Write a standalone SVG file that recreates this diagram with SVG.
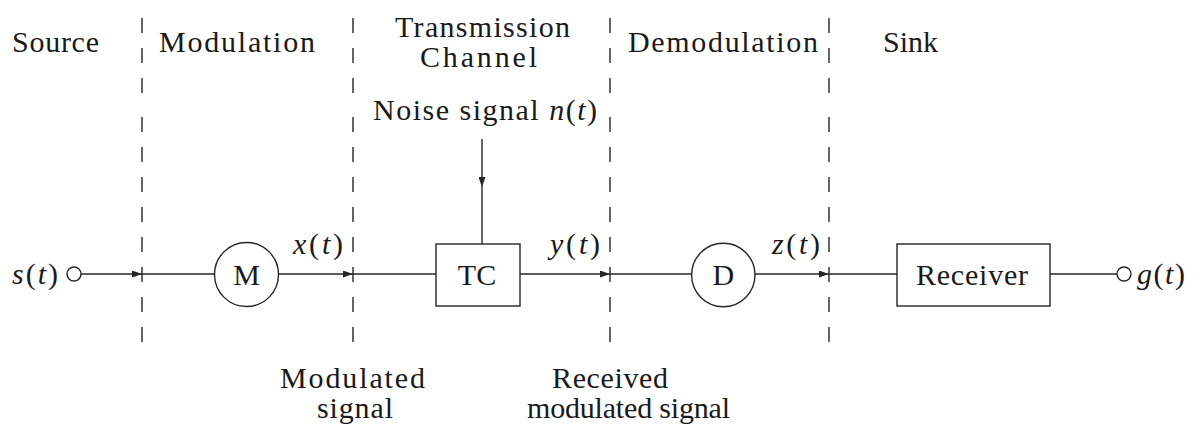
<svg xmlns="http://www.w3.org/2000/svg" width="1194" height="424" viewBox="0 0 1194 424">
<style>
.t{font-family:'Liberation Serif','DejaVu Serif',serif;font-size:30px;fill:#1a1a1a}
.i{font-style:italic}
.ln{stroke:#262626;stroke-width:1.4;fill:none}
.dash{stroke:#262626;stroke-width:1.4;fill:none;stroke-dasharray:15 15}
.shape{stroke:#262626;stroke-width:1.4;fill:#fff}
</style>
<defs>
<marker id="arr" markerUnits="userSpaceOnUse" markerWidth="10" markerHeight="7" refX="10" refY="3.5" orient="auto">
<path d="M0,0 L10,3.5 L0,7 z" fill="#262626"/>
</marker>
</defs>
<rect width="1194" height="424" fill="#fff"/>
<g id="separators">
<path class="dash" d="M142,18V93M142,117V342M353,18V93M353,117V342M610,18V93M610,117V342M829,18V93M829,117V342"/>
</g>
<g id="headers" class="t" font-family="Liberation Serif, DejaVu Serif, serif">
<text x="12" y="52" textLength="87">Source</text>
<text x="159" y="52" textLength="156">Modulation</text>
<text x="395" y="37" textLength="175">Transmission</text>
<text x="420" y="67" textLength="117">Channel</text>
<text x="628" y="52" textLength="190">Demodulation</text>
<text x="883" y="52">Sink</text>
</g>
<g id="connectors">
<path class="ln" d="M81,274H142" marker-end="url(#arr)"/>
<path class="ln" d="M142,274H214.5"/>
<path class="ln" d="M278.5,274H353" marker-end="url(#arr)"/>
<path class="ln" d="M353,274H436"/>
<path class="ln" d="M520,274H610" marker-end="url(#arr)"/>
<path class="ln" d="M610,274H691.5"/>
<path class="ln" d="M755,274H829" marker-end="url(#arr)"/>
<path class="ln" d="M829,274H897"/>
<path class="ln" d="M1050,274H1117"/>
<path class="ln" d="M482,139V187" marker-end="url(#arr)"/>
<path class="ln" d="M482,187V244"/>
</g>
<g id="source" class="t" font-family="Liberation Serif, DejaVu Serif, serif">
<circle class="shape" cx="74" cy="274" r="7"/>
<text x="12" y="284" textLength="46"><tspan class="i">s</tspan>(<tspan class="i">t</tspan>)</text>
</g>
<g id="modulator" class="t" font-family="Liberation Serif, DejaVu Serif, serif">
<circle class="shape" cx="246.5" cy="274.5" r="32"/>
<text x="246.5" y="285" text-anchor="middle">M</text>
</g>
<g id="label-x" class="t" font-family="Liberation Serif, DejaVu Serif, serif">
<text x="293" y="254" textLength="50"><tspan class="i">x</tspan>(<tspan class="i">t</tspan>)</text>
</g>
<g id="noise" class="t" font-family="Liberation Serif, DejaVu Serif, serif">
<text x="373" y="120" textLength="224">Noise signal <tspan class="i">n</tspan>(<tspan class="i">t</tspan>)</text>
</g>
<g id="channel" class="t" font-family="Liberation Serif, DejaVu Serif, serif">
<rect class="shape" x="436" y="244" width="84" height="62"/>
<text x="477" y="285" text-anchor="middle">TC</text>
</g>
<g id="label-y" class="t" font-family="Liberation Serif, DejaVu Serif, serif">
<text x="550" y="254" textLength="50"><tspan class="i">y</tspan>(<tspan class="i">t</tspan>)</text>
</g>
<g id="demodulator" class="t" font-family="Liberation Serif, DejaVu Serif, serif">
<circle class="shape" cx="723.3" cy="275" r="31.7"/>
<text x="723.3" y="285" text-anchor="middle">D</text>
</g>
<g id="label-z" class="t" font-family="Liberation Serif, DejaVu Serif, serif">
<text x="772" y="254" textLength="48"><tspan class="i">z</tspan>(<tspan class="i">t</tspan>)</text>
</g>
<g id="receiver" class="t" font-family="Liberation Serif, DejaVu Serif, serif">
<rect class="shape" x="897" y="244" width="153" height="62"/>
<text x="916" y="285" textLength="112">Receiver</text>
</g>
<g id="sink" class="t" font-family="Liberation Serif, DejaVu Serif, serif">
<circle class="shape" cx="1124" cy="274" r="7"/>
<text x="1137" y="284" textLength="48"><tspan class="i">g</tspan>(<tspan class="i">t</tspan>)</text>
</g>
<g id="bottom-labels" class="t" font-family="Liberation Serif, DejaVu Serif, serif">
<text x="280" y="388" textLength="145">Modulated</text>
<text x="317" y="418" textLength="76">signal</text>
<text x="552" y="388" textLength="116">Received</text>
<text x="527" y="418" textLength="203">modulated signal</text>
</g>
</svg>
